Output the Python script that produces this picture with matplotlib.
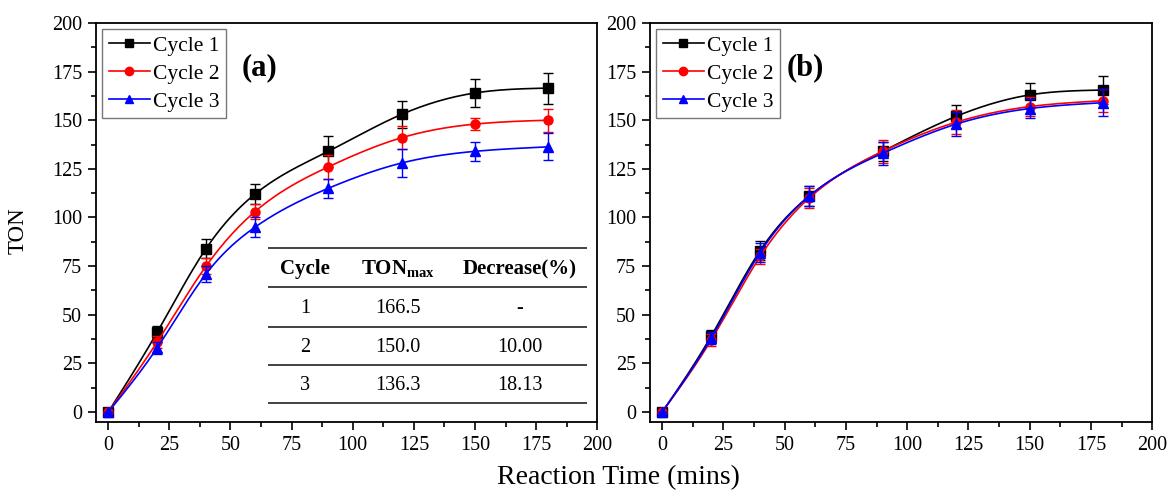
import numpy as np
import matplotlib
matplotlib.use("Agg")
import matplotlib.pyplot as plt
from matplotlib.ticker import MultipleLocator

plt.rcParams['font.family'] = ['Liberation Serif', 'DejaVu Serif']
plt.rcParams['mathtext.fontset'] = 'custom'
plt.rcParams['mathtext.rm'] = 'Liberation Serif'
plt.rcParams['mathtext.bf'] = 'Liberation Serif:bold'

# data
time = [0, 20, 40, 60, 90, 120, 150, 180]
labels = ['Cycle 1', 'Cycle 2', 'Cycle 3']

a_ton = [[0, 41, 84, 112, 134, 153, 164, 166.5],
         [0, 36, 75, 103, 126, 141, 148, 150.0],
         [0, 33, 71, 95, 115, 128, 134, 136.3]]
a_err = [[0, 3, 5, 5, 8, 7, 7, 8],
         [0, 3, 4, 4, 6, 6, 3, 6],
         [0, 3, 4, 5, 5, 7, 5, 7]]

b_ton = [[0, 39, 83, 111, 134, 152, 163, 165.5],
         [0, 37, 80, 110, 134, 149, 157, 160],
         [0, 38, 82, 111, 133, 148, 156, 159]]
b_err = [[0, 3, 5, 5, 5, 6, 6, 7],
         [0, 3, 4, 5, 6, 6, 5, 6],
         [0, 3, 5, 5, 6, 6, 5, 7]]

tbl_cols = ['Cycle', r'TON$_{\mathbf{max}}$', 'Decrease(%)']
tbl_cycle = ['1', '2', '3']
tbl_tonmax = ['166.5', '150.0', '136.3']
tbl_decrease = ['-', '10.00', '18.13']

colors = ['black', 'red', 'blue']
markers = ['s', 'o', '^']


def spline(x, y, n=200):
    # natural cubic spline through the points, just for drawing the line
    x = np.asarray(x, float)
    y = np.asarray(y, float)
    k = len(x)
    h = np.diff(x)
    A = np.zeros((k, k))
    r = np.zeros(k)
    A[0, 0] = A[-1, -1] = 1
    for i in range(1, k - 1):
        A[i, i - 1] = h[i - 1]
        A[i, i] = 2 * (h[i - 1] + h[i])
        A[i, i + 1] = h[i]
        r[i] = 6 * ((y[i + 1] - y[i]) / h[i] - (y[i] - y[i - 1]) / h[i - 1])
    M = np.linalg.solve(A, r)
    xs = np.linspace(x[0], x[-1], n)
    idx = np.clip(np.searchsorted(x, xs) - 1, 0, k - 2)
    x0, x1 = x[idx], x[idx + 1]
    hh = x1 - x0
    ys = (M[idx] * (x1 - xs) ** 3 / (6 * hh) + M[idx + 1] * (xs - x0) ** 3 / (6 * hh)
          + (y[idx] / hh - M[idx] * hh / 6) * (x1 - xs)
          + (y[idx + 1] / hh - M[idx + 1] * hh / 6) * (xs - x0))
    return xs, ys


fig = plt.figure(figsize=(11.71, 4.98), dpi=100)
ax1 = fig.add_axes([0.082, 0.153, 0.428, 0.801])
ax2 = fig.add_axes([0.555, 0.153, 0.429, 0.801])

for ax, tons, errs, tag, tagx in [(ax1, a_ton, a_err, '(a)', 0.327), (ax2, b_ton, b_err, '(b)', 0.31)]:
    for ton, err, c, m, lab in zip(tons, errs, colors, markers, labels):
        xs, ys = spline(time, ton)
        ax.plot(xs, ys, color=c, lw=1.2)
        ax.errorbar(time, ton, yerr=err, fmt='none', ecolor=c, elinewidth=1.0,
                    capsize=3.5, capthick=1.0)
        ax.plot(time, ton, ls='none', marker=m, color=c, ms=6.5 if m != '^' else 7)
        ax.plot([], [], color=c, marker=m, ms=6, lw=1.2, label=lab)
    ax.set_xlim(-5, 200)
    ax.set_ylim(-5, 200)
    ax.xaxis.set_major_locator(MultipleLocator(25))
    ax.xaxis.set_minor_locator(MultipleLocator(12.5))
    ax.yaxis.set_major_locator(MultipleLocator(25))
    ax.yaxis.set_minor_locator(MultipleLocator(12.5))
    ax.tick_params(which='both', direction='out', top=False, right=False, labelsize=14.5)
    ax.tick_params(which='major', length=6, width=1.2, pad=4)
    ax.tick_params(which='minor', length=3.5, width=1.2)
    for s in ax.spines.values():
        s.set_linewidth(1.3)
    leg = ax.legend(loc='upper left', fontsize=15.5, frameon=True, fancybox=False,
                    handlelength=1.9, handletextpad=0.15, borderpad=0.3,
                    labelspacing=0.36, borderaxespad=0.3)
    leg.get_frame().set_edgecolor('#555555')
    leg.get_frame().set_linewidth(1.0)
    ax.text(tagx, 0.888, tag, transform=ax.transAxes, fontsize=22, fontweight='bold',
            ha='center', va='center')

ax1.set_ylabel('TON', fontsize=16.5)
ax1.yaxis.set_label_coords(-0.134, 0.479)
fig.text(0.528, 0.04, 'Reaction Time (mins)', ha='center', va='center', fontsize=20)

# inset table in panel (a)
tx = [80.6, 118.6, 168.3]
ax1.hlines([84.1, 64.1, 43.6, 24.1, 4.6], 65.4, 196, color='#222222', lw=1.2)
for x, t in zip(tx, tbl_cols):
    ax1.text(x, 73.3, t, ha='center', va='center', fontsize=15, fontweight='bold')
for i, yv in enumerate([53.3, 33.3, 13.8]):
    for x, t in zip(tx, [tbl_cycle[i], tbl_tonmax[i], tbl_decrease[i]]):
        ax1.text(x, yv, t, ha='center', va='center', fontsize=14.5)

fig.savefig('out.png', dpi=100)
